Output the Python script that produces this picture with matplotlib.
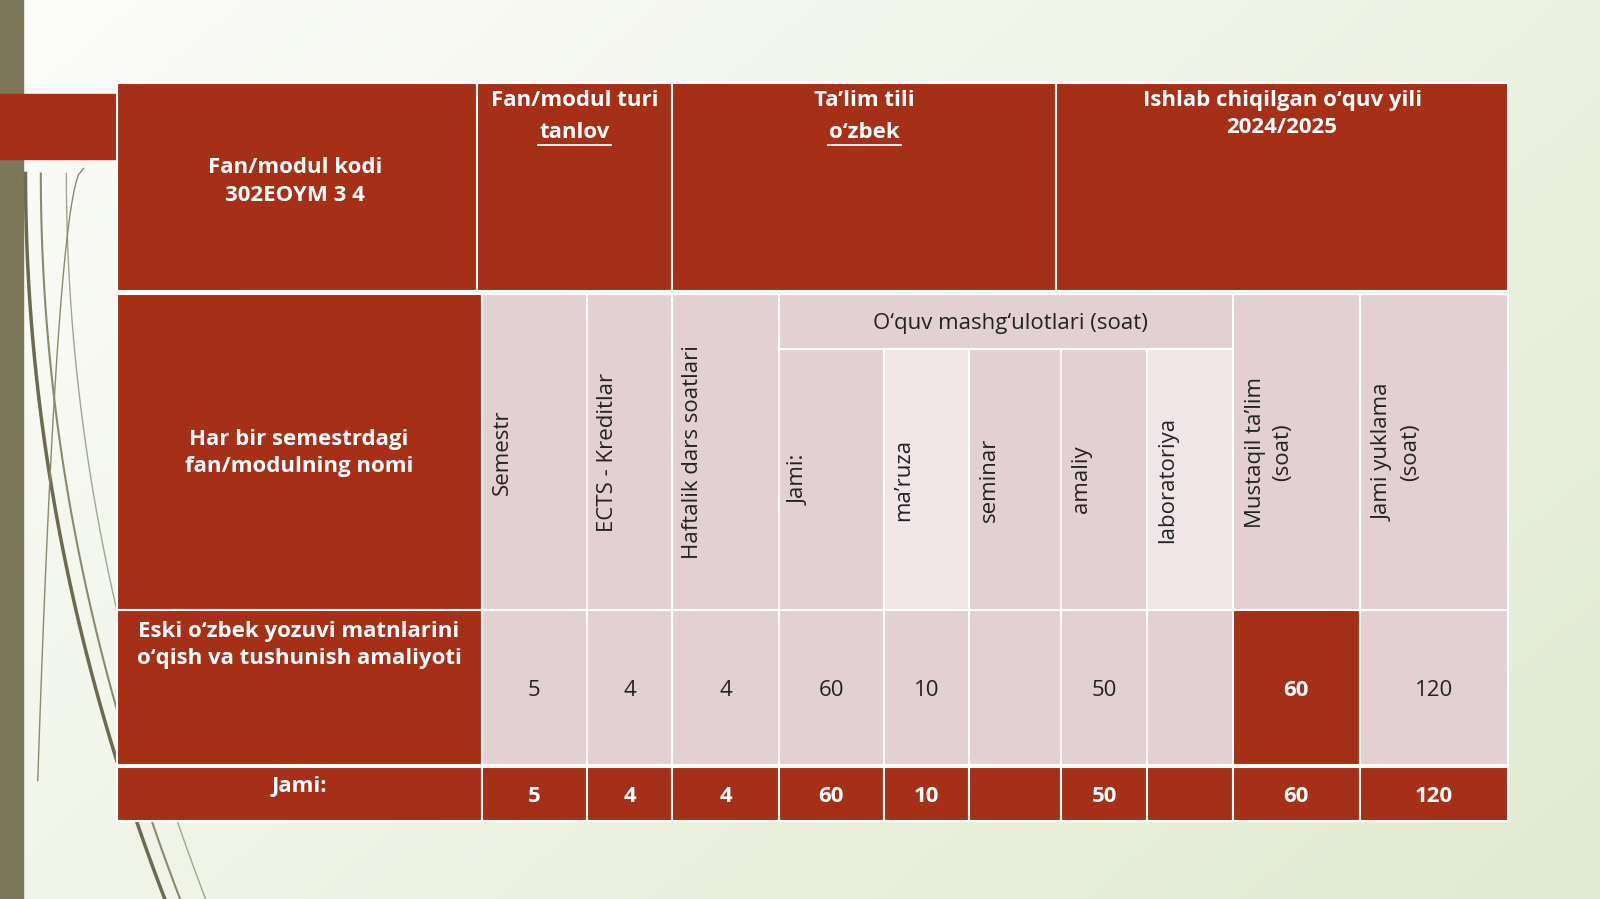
import matplotlib
matplotlib.use("Agg")
import matplotlib.pyplot as plt
import numpy as np
from matplotlib.patches import Rectangle

plt.rcParams['font.family'] = ['Open Sans', 'Noto Sans', 'DejaVu Sans']

# ---- data ----
top_headers = ["Fan/modul kodi\n302EOYM 3 4", "Fan/modul turi", "Ta’lim tili", "Ishlab chiqilgan o‘quv yili\n2024/2025"]
top_under = [None, "tanlov", "o‘zbek", None]
row_label = "Har bir semestrdagi\nfan/modulning nomi"
col_headers = ["Semestr", "ECTS - Kreditlar", "Haftalik dars soatlari", "Jami:", "ma’ruza",
               "seminar", "amaliy", "laboratoriya", "Mustaqil ta’lim\n(soat)", "Jami yuklama\n(soat)"]
group_header = "O‘quv mashg‘ulotlari (soat)"
subject = "Eski o‘zbek yozuvi matnlarini\no‘qish va tushunish amaliyoti"
values = ["5", "4", "4", "60", "10", "", "50", "", "60", "120"]
total_label = "Jami:"
totals = ["5", "4", "4", "60", "10", "", "50", "", "60", "120"]

RED = "#a62f17"
PINK = "#e3d0d3"
LIGHT = "#f0e5e7"
FS = 16

fig = plt.figure(figsize=(16, 8.99), dpi=100)
ax = fig.add_axes([0, 0, 1, 1])
ax.set_xlim(0, 1568); ax.set_ylim(881, 0); ax.axis('off')

g = np.linspace(0, 1, 256)
X, Y = np.meshgrid(g, g)
t = np.clip(0.6 * X + 0.4 * Y, 0, 1)
c0 = np.array([0.99, 0.99, 0.98]); c1 = np.array([0.88, 0.92, 0.82])
img = c0[None, None, :] * (1 - t[..., None]) + c1[None, None, :] * t[..., None]
ax.imshow(img, extent=[0, 1568, 881, 0], aspect='auto', zorder=0)
ax.add_patch(Rectangle((0, 0), 23, 881, color="#7c7759", zorder=1))
ax.add_patch(Rectangle((0, 92), 114, 64, color=RED, zorder=1))
s = np.linspace(0, 1, 100)
for dx, w, c in [(0, 2.5, "#6d6a50"), (15, 1.5, "#8a8a70"), (40, 1, "#a0a690")]:
    ax.plot(25 + dx + 140 * s ** 2, 170 + 720 * s, color=c, lw=w, zorder=1)
ax.plot(82 - 50 * s ** 0.5 + 5 * s, 165 + 600 * s, color="#8a8a70", lw=1, zorder=1)

def cell(x0, y0, x1, y1, color):
    ax.add_patch(Rectangle((x0, y0), x1 - x0, y1 - y0, facecolor=color, edgecolor="white", lw=1.5, zorder=2))

def txt(x, y, s, color="white", bold=False, rot=0, size=FS, ha='center', va='center'):
    ax.text(x, y, s, color=color, fontsize=size, fontweight='bold' if bold else 'normal',
            rotation=rot, ha=ha, va=va, zorder=3, linespacing=1.4)

tops = [115, 467, 659, 1035, 1478]
for i in range(4):
    cell(tops[i], 81, tops[i + 1], 285, RED)
txt((tops[0] + tops[1]) / 2 - 2, 178, top_headers[0], bold=True)
for i in range(1, 4):
    xc = (tops[i] + tops[i + 1]) / 2
    txt(xc, 88, top_headers[i], bold=True, va='top')
    if top_under[i]:
        txt(xc, 130, top_under[i], bold=True)
        wpx = len(top_under[i]) * 12
        ax.plot([xc - wpx / 2, xc + wpx / 2], [142, 142], color="white", lw=1.3, zorder=3)

cols = [472, 575, 659, 763, 866, 950, 1040, 1124, 1208, 1333, 1478]
cell(115, 288, 472, 598, RED)
txt(293, 444, row_label, bold=True)
for i in range(10):
    x0, x1 = cols[i], cols[i + 1]
    if 3 <= i <= 7:
        cell(x0, 342, x1, 598, LIGHT if i in (4, 7) else PINK)
    else:
        cell(x0, 288, x1, 598, PINK)
cell(763, 288, 1208, 342, PINK)
txt(990, 317, group_header, color="#222222")
for i in range(10):
    x0 = cols[i]
    yc = 443 if i < 3 or i > 7 else 470
    txt(x0 + (20 if "\n" not in col_headers[i] else 36), yc, col_headers[i], color="#222222", rot=90)

cell(115, 598, 472, 750, RED)
txt(293, 632, subject, bold=True)
for i in range(10):
    x0, x1 = cols[i], cols[i + 1]
    cell(x0, 598, x1, 750, RED if i == 8 else PINK)
    txt((x0 + x1) / 2, 677, values[i], color="white" if i == 8 else "#222222", bold=(i == 8))

cell(115, 752, 472, 805, RED)
txt(293, 771, total_label, bold=True)
for i in range(10):
    x0, x1 = cols[i], cols[i + 1]
    cell(x0, 752, x1, 805, RED)
    txt((x0 + x1) / 2, 781, totals[i], bold=True)

fig.savefig("out.png", dpi=100)
